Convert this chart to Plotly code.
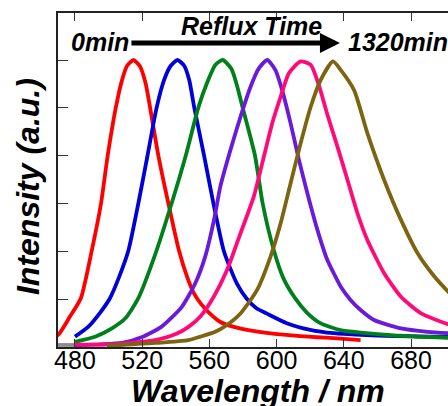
import plotly.graph_objects as go

# ---- data ----
red_wl = [466, 470, 477, 483.5, 490, 495.5, 499.5, 504.3, 508, 511, 514.8, 518.5, 522, 524.7, 529.6, 535.6,
          541.9, 547, 551, 555, 560, 566.3, 574, 584, 594, 604, 614, 624, 634, 650]
red_i = [0.03, 0.042, 0.106, 0.17, 0.336, 0.5, 0.668, 0.834, 0.93, 0.98, 1.0, 0.98, 0.92, 0.834, 0.668, 0.5,
         0.336, 0.24, 0.185, 0.15, 0.118, 0.088, 0.071, 0.058, 0.049, 0.043, 0.038, 0.034, 0.031, 0.024]

blue_wl = [480, 488, 495, 500.8, 506, 511.8, 517.7, 523.2, 528.6, 533, 537, 541, 545, 548, 551, 556.8,
           562.4, 568.5, 572, 576.3, 582, 588, 594, 606, 620, 634, 650, 670, 703]
blue_i = [0.036, 0.071, 0.12, 0.17, 0.24, 0.336, 0.5, 0.668, 0.834, 0.93, 0.98, 1.0, 0.98, 0.93, 0.834, 0.668,
          0.5, 0.336, 0.28, 0.222, 0.17, 0.135, 0.117, 0.083, 0.06, 0.048, 0.042, 0.038, 0.035]

green_wl = [480, 492, 502, 510, 517.7, 527.6, 537.5, 546, 553.4, 558.5, 563.5, 568, 573, 576, 579.8, 587.1,
            591.7, 598.4, 604, 611, 618, 626, 638, 650, 670, 703]
green_i = [0.018, 0.036, 0.065, 0.1, 0.17, 0.32, 0.5, 0.668, 0.834, 0.919, 0.983, 1.0, 0.97, 0.92, 0.834, 0.668,
           0.5, 0.336, 0.24, 0.17, 0.12, 0.083, 0.059, 0.05, 0.04, 0.032]

purple_wl = [480, 495, 508, 520, 531.6, 543.6, 551.6, 557.5, 563, 566.5, 572.5, 578.5, 584.5, 589.4, 594.4,
             599.3, 603.3, 608.3, 613.3, 618.3, 624.2, 630.2, 634, 638.2, 644, 650, 658, 674, 690, 703]
purple_i = [0.006, 0.009, 0.014, 0.035, 0.071, 0.14, 0.222, 0.315, 0.45, 0.559, 0.686, 0.802, 0.907, 0.971, 1.0,
            0.965, 0.895, 0.78, 0.652, 0.536, 0.41, 0.303, 0.257, 0.21, 0.164, 0.129, 0.094, 0.065, 0.053, 0.048]

pink_wl = [480, 505, 527.6, 540, 547.6, 554.6, 562.6, 570.5, 578.5, 586.4, 592.4, 597.4, 602.4, 607.3, 614.3,
           620.3, 625, 630.2, 636.2, 642.2, 648.1, 654, 664, 674, 686, 703]
pink_i = [0.008, 0.01, 0.024, 0.045, 0.07, 0.106, 0.175, 0.268, 0.396, 0.524, 0.663, 0.78, 0.872, 0.954, 0.995,
          0.983, 0.915, 0.81, 0.698, 0.582, 0.466, 0.373, 0.257, 0.175, 0.117, 0.077]

olive_wl = [499, 527.6, 547.5, 554.6, 563.5, 570, 578.5, 588.4, 596.4, 602.4, 608.3, 614.3, 620.3, 626.2, 633.5,
            638.2, 646.1, 654, 664, 674, 684, 694, 703]
olive_i = [0.004, 0.014, 0.024, 0.036, 0.053, 0.075, 0.117, 0.199, 0.315, 0.431, 0.57, 0.71, 0.837, 0.93, 0.995,
           0.965, 0.895, 0.745, 0.582, 0.443, 0.326, 0.245, 0.187]

base_wl = [466, 481]
base_i = [0.007, 0.007]

x_ticks = [480, 520, 560, 600, 640, 680]
y_ticks = [1/6, 2/6, 3/6, 4/6, 5/6, 1.0]

series = [
    (base_wl, base_i, "#8c8c8c"),
    (red_wl, red_i, "#ff0000"),
    (blue_wl, blue_i, "#0000d8"),
    (green_wl, green_i, "#00801a"),
    (purple_wl, purple_i, "#6a1ad8"),
    (pink_wl, pink_i, "#ff0a78"),
    (olive_wl, olive_i, "#7d6410"),
]

FONT = "Liberation Sans, Arial, sans-serif"

fig = go.Figure()
for wl, inten, col in series:
    fig.add_trace(go.Scatter(x=wl, y=inten, mode="lines",
                             line=dict(color=col, width=3.8, shape="spline", smoothing=0.6),
                             showlegend=False, hoverinfo="skip"))

fig.update_layout(
    width=448, height=406,
    margin=dict(l=58, r=0, t=13, b=59),
    paper_bgcolor="white", plot_bgcolor="white",
    font=dict(family=FONT, color="black"),
    xaxis=dict(range=[469.9, 702.0], tickvals=x_ticks, ticks="inside", ticklen=8, tickwidth=1.2,
               tickcolor="#333", showline=True, linecolor="#222", linewidth=1.5, mirror="ticks",
               showgrid=False, zeroline=False, automargin=False, ticklabelstandoff=-10,
               tickfont=dict(size=25, family=FONT, color="black")),
    yaxis=dict(range=[0, 1.1638], tickvals=y_ticks, ticks="inside", ticklen=10, tickwidth=1.2,
               tickcolor="#333", showline=True, linecolor="#222", linewidth=1.5, mirror=False,
               showgrid=False, zeroline=False, showticklabels=False, automargin=False),
)

title_font = dict(size=32, family=FONT, weight="bold", style="italic", color="black")
fig.add_annotation(x=0.513, y=-0.1317, xref="paper", yref="paper", text="Wavelength / nm",
                   showarrow=False, xanchor="center", yanchor="middle", font=title_font)
fig.add_annotation(x=-0.0769, y=0.479, xref="paper", yref="paper", text="Intensity (a.u.)",
                   showarrow=False, xanchor="center", yanchor="middle", textangle=-90, font=title_font)

ann_font = dict(size=25, family=FONT, weight="bold", style="italic", color="black")
fig.add_annotation(x=476.5, y=1.063, xref="x", yref="y", text="0min", showarrow=False,
                   xanchor="left", yanchor="middle", font=ann_font)
fig.add_annotation(x=641.5, y=1.063, xref="x", yref="y", text="1320min", showarrow=False,
                   xanchor="left", yanchor="middle", font=ann_font)
fig.add_annotation(x=584.8, y=1.118, xref="x", yref="y", text="Reflux Time", showarrow=False,
                   xanchor="center", yanchor="middle", font=ann_font)
fig.add_annotation(x=637.7, y=1.059, xref="x", yref="y", ax=512.7, ay=1.059, axref="x", ayref="y",
                   text="", showarrow=True, arrowhead=2, arrowsize=0.8, arrowwidth=5, arrowcolor="black")

fig.write_html("out.html", config={"displayModeBar": False})

# remove the default page margin so the figure sits at the window's top-left corner
with open("out.html", "r", encoding="utf-8") as f:
    html = f.read()
html = html.replace("<head>", "<head><style>html,body{margin:0;padding:0;overflow:hidden;}</style>", 1)
with open("out.html", "w", encoding="utf-8") as f:
    f.write(html)
